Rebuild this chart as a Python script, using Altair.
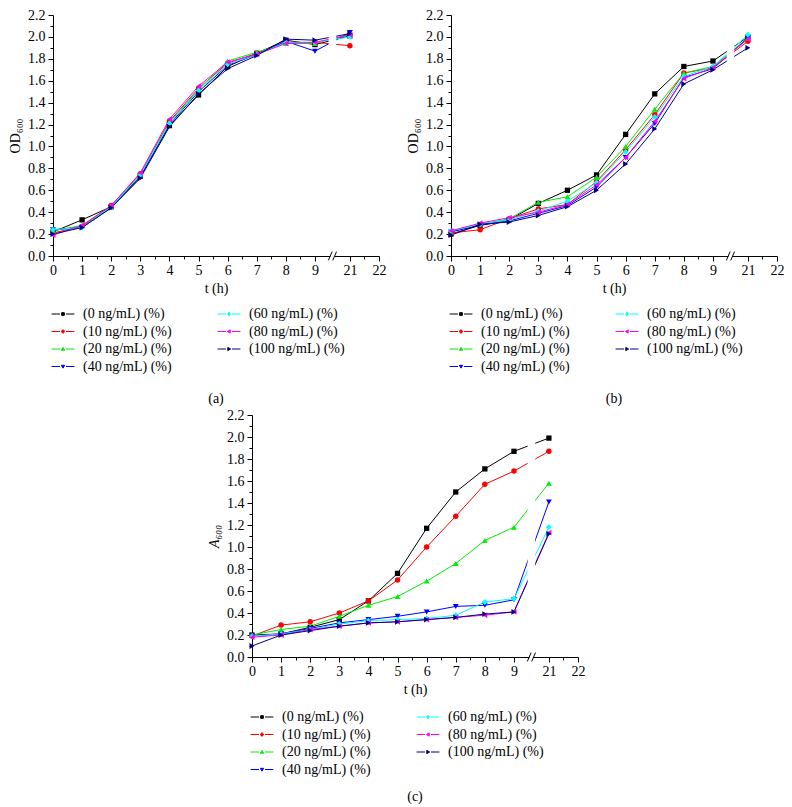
import altair as alt
import pandas as pd

# ---------------- data ----------------
hours = [0, 1, 2, 3, 4, 5, 6, 7, 8, 9, 21]
series_names = ["(0 ng/mL) (%)", "(10 ng/mL) (%)", "(20 ng/mL) (%)", "(40 ng/mL) (%)",
                "(60 ng/mL) (%)", "(80 ng/mL) (%)", "(100 ng/mL) (%)"]
series_colors = ["#000000", "#ff0000", "#00ee00", "#0000ff", "#00ffff", "#ff00ff", "#000080"]
marker_shapes = ["square", "circle", "triangle-up", "triangle-down", "diamond",
                 "triangle-left", "triangle-right"]

# panel (a)  OD600
a_0 = [0.22, 0.33, 0.45, 0.73, 1.19, 1.47, 1.73, 1.85, 1.97, 1.93, 2.01]
a_10 = [0.21, 0.27, 0.46, 0.75, 1.23, 1.53, 1.76, 1.85, 1.95, 1.95, 1.92]
a_20 = [0.23, 0.28, 0.45, 0.74, 1.22, 1.52, 1.78, 1.86, 1.94, 1.94, 2.02]
a_40 = [0.24, 0.26, 0.44, 0.72, 1.20, 1.50, 1.74, 1.84, 1.96, 1.87, 2.04]
a_60 = [0.24, 0.26, 0.45, 0.74, 1.21, 1.51, 1.75, 1.84, 1.95, 1.95, 2.00]
a_80 = [0.19, 0.28, 0.46, 0.76, 1.25, 1.55, 1.77, 1.84, 1.94, 1.95, 2.02]
a_100 = [0.20, 0.26, 0.44, 0.71, 1.18, 1.48, 1.71, 1.83, 1.98, 1.97, 2.03]

# panel (b)  OD600
b_0 = [0.20, 0.28, 0.33, 0.48, 0.60, 0.74, 1.11, 1.48, 1.73, 1.78, 2.00]
b_10 = [0.21, 0.24, 0.34, 0.43, 0.47, 0.68, 0.97, 1.29, 1.67, 1.72, 1.96]
b_20 = [0.22, 0.29, 0.34, 0.49, 0.54, 0.72, 1.00, 1.34, 1.67, 1.73, 1.99]
b_40 = [0.22, 0.28, 0.32, 0.39, 0.46, 0.63, 0.90, 1.21, 1.63, 1.71, 1.99]
b_60 = [0.23, 0.29, 0.33, 0.41, 0.50, 0.67, 0.95, 1.27, 1.64, 1.73, 2.02]
b_80 = [0.23, 0.30, 0.35, 0.40, 0.47, 0.65, 0.90, 1.23, 1.62, 1.72, 1.98]
b_100 = [0.19, 0.29, 0.31, 0.37, 0.45, 0.60, 0.84, 1.16, 1.57, 1.70, 1.90]

# panel (c)  A600
c_0 = [0.20, 0.21, 0.27, 0.34, 0.51, 0.76, 1.17, 1.50, 1.71, 1.87, 1.99]
c_10 = [0.19, 0.29, 0.32, 0.40, 0.51, 0.70, 1.00, 1.28, 1.57, 1.69, 1.87]
c_20 = [0.20, 0.25, 0.28, 0.37, 0.47, 0.55, 0.69, 0.85, 1.06, 1.18, 1.58]
c_40 = [0.19, 0.21, 0.26, 0.31, 0.34, 0.37, 0.41, 0.46, 0.47, 0.52, 1.41]
c_60 = [0.19, 0.21, 0.25, 0.30, 0.33, 0.34, 0.35, 0.38, 0.50, 0.53, 1.18]
c_80 = [0.18, 0.20, 0.25, 0.28, 0.31, 0.32, 0.34, 0.36, 0.38, 0.41, 1.13]
c_100 = [0.10, 0.20, 0.24, 0.28, 0.31, 0.32, 0.34, 0.36, 0.39, 0.41, 1.12]

# axis ticks
major_hours = [0, 1, 2, 3, 4, 5, 6, 7, 8, 9, 21, 22]
minor_hours = [0.5, 1.5, 2.5, 3.5, 4.5, 5.5, 6.5, 7.5, 8.5, 21.5]
y_major = [0.0, 0.2, 0.4, 0.6, 0.8, 1.0, 1.2, 1.4, 1.6, 1.8, 2.0, 2.2]
y_minor = [0.1, 0.3, 0.5, 0.7, 0.9, 1.1, 1.3, 1.5, 1.7, 1.9, 2.1]

# broken axis: hours 9.6 .. 20.4 are cut out
BREAK_FROM = 9.6
BREAK_TO = 20.4
SHIFT = round(BREAK_TO - BREAK_FROM, 6)

# ---------------- styling ----------------
FONT = "Liberation Serif"
FS = 14

# legend symbols: dash - marker - dash (units of 3 px)
DL = "M-3.8,0L-1.0,0"
DR = "M1.0,0L3.8,0"
legend_markers = [
    "M-0.45,-0.45L0.45,-0.45L0.45,0.45L-0.45,0.45Z",
    "M0.5,0A0.5,0.5,0,1,1,-0.5,0A0.5,0.5,0,1,1,0.5,0Z",
    "M0,-0.55L0.55,0.4L-0.55,0.4Z",
    "M0,0.55L0.55,-0.4L-0.55,-0.4Z",
    "M0,-0.6L0.5,0L0,0.6L-0.5,0Z",
    "M-0.55,0L0.4,-0.55L0.4,0.55Z",
    "M0.55,0L-0.4,-0.55L-0.4,0.55Z",
]
legend_paths = [DL + m + DR for m in legend_markers]
marker_sizes = [28, 30, 34, 34, 34, 34, 34]
# line/marker colour scale listed in reverse so it is kept apart from the legend scales
line_domain = series_names[::-1]
line_range = series_colors[::-1]


def pos(t):
    return t if t <= BREAK_FROM else t - SHIFT


x_tick_pos = sorted(pos(t) for t in major_hours + minor_hours)
T = f"(datum.value > {BREAK_FROM} ? datum.value + {SHIFT} : datum.value)"
x_major_test = f"abs({T} - round({T})) < 0.01"
x_label_expr = f"{x_major_test} ? format(round({T}), 'd') : ''"
y_tick_vals = sorted(y_major + y_minor)
y_major_test = "round(datum.value * 10) % 2 === 0"
y_label_expr = f"{y_major_test} ? format(datum.value, '.1f') : ''"

x_scale = alt.Scale(domain=[0, pos(22)], nice=False, zero=False)
y_scale = alt.Scale(domain=[0, 2.2], nice=False, zero=True)

line_gap = {"p": [9.47], "p2": [9.73], "v": [0.018], "v2": [2.2]}
axis_gap = {"p": [9.53], "p2": [9.68], "v": [-0.012], "v2": [0.012]}
slashes = {"p": [9.46, 9.61], "p2": [9.59, 9.74], "v": [-0.04, -0.04], "v2": [0.04, 0.04]}


def panel(values, ytitle, caption, italic_y=False, lx=3, ly=292, height=241, cap_offset=18):
    rows = []
    for name, vals in zip(series_names, values):
        for t, v in zip(hours, vals):
            rows.append({"series": name, "t": t, "p": pos(t), "v": v})
    df = pd.DataFrame(rows)
    base = alt.Chart(df)

    x = alt.X("p:Q", scale=x_scale, title="t (h)",
              axis=alt.Axis(values=x_tick_pos, labelExpr=x_label_expr,
                            tickSize={"condition": {"test": x_major_test, "value": 5}, "value": 3},
                            labelOverlap=False, labelFlush=False, labelPadding=2,
                            titlePadding=4))
    y = alt.Y("v:Q", scale=y_scale, title=ytitle,
              axis=alt.Axis(values=y_tick_vals, labelExpr=y_label_expr,
                            tickSize={"condition": {"test": y_major_test, "value": 5}, "value": 3},
                            labelOverlap=False, labelFlush=False, labelPadding=3,
                            titlePadding=5,
                            titleFontStyle="italic" if italic_y else "normal"))
    color = alt.Color("series:N", scale=alt.Scale(domain=line_domain, range=line_range),
                      legend=None)

    lines = base.mark_line(strokeWidth=1).encode(x=x, y=y, color=color)
    gap = alt.Chart(pd.DataFrame(line_gap)).mark_rect(color="white").encode(
        x=x, x2="p2", y=y, y2="v2")
    pts = []
    for name, shp, sz in zip(series_names, marker_shapes, marker_sizes):
        pts.append(base.transform_filter(alt.datum.series == name).mark_point(
            shape=shp, filled=True, size=sz, opacity=1).encode(x=x, y=y, color=color))
    agap = alt.Chart(pd.DataFrame(axis_gap)).mark_rect(color="white").encode(
        x=x, x2="p2", y=y, y2="v2")
    sl = alt.Chart(pd.DataFrame(slashes)).mark_rule(color="black", strokeWidth=1).encode(
        x=x, x2="p2", y=y, y2="v2")

    leg = alt.Legend(title=None, orient="none", legendX=lx, legendY=ly, columns=2,
                     direction="vertical", symbolSize=36, symbolStrokeWidth=1,
                     symbolOpacity=1, labelFont=FONT, labelFontSize=FS,
                     labelColor="black", labelOffset=13, columnPadding=43,
                     rowPadding=3.5, padding=0, labelLimit=300)
    legend_layer = base.mark_point(filled=True, opacity=0, size=36).encode(
        x=x, y=y,
        fill=alt.Fill("series:N", scale=alt.Scale(domain=series_names, range=series_colors), legend=leg),
        stroke=alt.Stroke("series:N", scale=alt.Scale(domain=series_names, range=series_colors), legend=leg),
        shape=alt.Shape("series:N", scale=alt.Scale(domain=series_names, range=legend_paths), legend=leg),
    )

    return alt.layer(lines, gap, *pts, agap, sl, legend_layer).properties(
        width=326, height=height,
        title=alt.TitleParams(caption, orient="bottom", anchor="middle", font=FONT,
                              fontSize=FS, fontWeight="normal", color="black",
                              offset=cap_offset),
    )


pa = panel([a_0, a_10, a_20, a_40, a_60, a_80, a_100], "OD\u2086\u2080\u2080", "(a)")
pb = panel([b_0, b_10, b_20, b_40, b_60, b_80, b_100], "OD\u2086\u2080\u2080", "(b)")
pc = panel([c_0, c_10, c_20, c_40, c_60, c_80, c_100], "A\u2086\u2080\u2080", "(c)",
           italic_y=True, height=242, ly=295, cap_offset=13)

indep = dict(x="independent", y="independent", color="independent",
             fill="independent", stroke="independent", shape="independent")

top = alt.hconcat(pa, pb, spacing=20).resolve_scale(**indep)
chart = alt.vconcat(top, pc, spacing=2, center=True).resolve_scale(**indep).properties(
    padding={"left": 0, "top": 0, "right": 0, "bottom": 0}
).configure_view(stroke=None).configure_axis(
    grid=False, domainColor="black", tickColor="black", domainWidth=1, tickWidth=1,
    labelFont=FONT, labelFontSize=FS, labelColor="black",
    titleFont=FONT, titleFontSize=FS, titleFontWeight="normal", titleColor="black",
)

chart.save("out.html", embed_options={"renderer": "svg", "actions": False})
